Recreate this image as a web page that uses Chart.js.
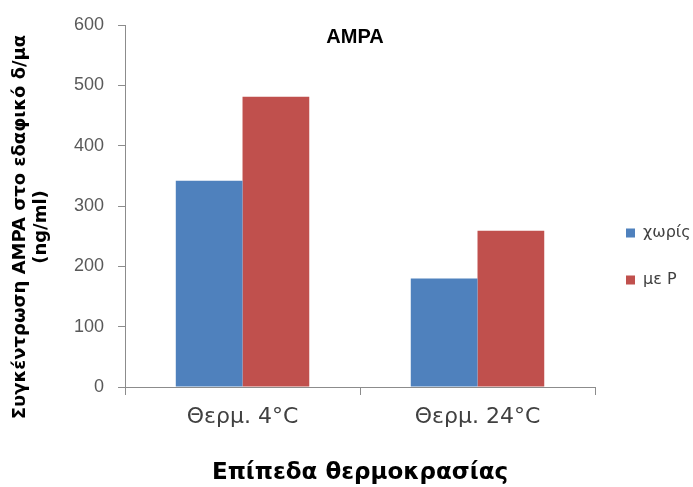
<!DOCTYPE html>
<html>
<head>
<meta charset="utf-8">
<script src="https://cdn.jsdelivr.net/npm/chart.js@4.4.1/dist/chart.umd.min.js"></script>
<style>
  html, body { margin: 0; padding: 0; background: #ffffff; }
  #wrap { width: 693px; height: 487px; }
</style>
</head>
<body>
<div id="wrap"><canvas id="chart" width="693" height="487"></canvas></div>
<script>
// Temperature levels on the x axis
const categories = ['Θερμ. 4°C', 'Θερμ. 24°C'];
// AMPA concentration in soil sample (ng/ml)
const withoutP = [342, 180];
const withP = [481, 259];
const seriesNames = ['χωρίς', 'με P'];
const yTicks = [0, 100, 200, 300, 400, 500, 600];

const chartTitle = 'AMPA';
const yTitleLines = ['Συγκέντρωση AMPA στο εδαφικό δ/μα', '(ng/ml)'];
const xTitle = 'Επίπεδα θερμοκρασίας';

// Chart title, rotated y-axis title and the series key, placed relative to the plot area
const textOverlay = {
  id: 'textOverlay',
  afterDraw(chart) {
    const { ctx, chartArea } = chart;
    ctx.save();
    ctx.fillStyle = '#000000';
    ctx.textAlign = 'center';
    ctx.textBaseline = 'middle';
    ctx.font = 'bold 20px "Liberation Sans", Arial, sans-serif';
    ctx.fillText(chartTitle, (chartArea.left + chartArea.right) / 2 - 5, chartArea.top + 12);

    // series key on the right
    const keyX = chartArea.right + 31;
    const keyY = chartArea.top + 208;
    ctx.textAlign = 'left';
    ctx.font = '16px "DejaVu Sans", Verdana, sans-serif';
    chart.data.datasets.forEach((ds, i) => {
      const y = keyY + i * 47;
      ctx.fillStyle = ds.backgroundColor;
      ctx.fillRect(keyX, y - 4.5, 9, 9);
      ctx.fillStyle = '#404040';
      ctx.fillText(ds.label, keyX + 17, y);
    });

    ctx.fillStyle = '#000000';
    ctx.textAlign = 'center';
    ctx.translate(20, (chartArea.top + chartArea.bottom) / 2 + 21);
    ctx.rotate(-Math.PI / 2);
    ctx.font = 'bold 18px "DejaVu Sans", Verdana, sans-serif';
    yTitleLines.forEach((line, i) => ctx.fillText(line, 0, i * 21));
    ctx.restore();
  }
};

new Chart(document.getElementById('chart'), {
  type: 'bar',
  data: {
    labels: categories,
    datasets: [
      { label: seriesNames[0], data: withoutP, backgroundColor: '#4F81BD' },
      { label: seriesNames[1], data: withP, backgroundColor: '#C0504D' }
    ]
  },
  options: {
    responsive: false,
    animation: false,
    layout: { padding: { left: 60, right: 98, top: 25, bottom: 0 } },
    datasets: { bar: { categoryPercentage: 0.568, barPercentage: 1.0 } },
    plugins: {
      tooltip: { enabled: false },
      title: { display: false },
      legend: { display: false }
    },
    scales: {
      x: {
        grid: { drawOnChartArea: false, drawTicks: true, tickLength: 8, color: '#8c8c8c', offset: true },
        border: { display: true, color: '#8c8c8c', width: 1 },
        ticks: {
          padding: 9,
          color: '#404040',
          font: { family: '"DejaVu Sans", Verdana, sans-serif', size: 22 }
        },
        title: {
          display: true,
          text: xTitle,
          color: '#000000',
          padding: { top: 20, bottom: 0 },
          font: { family: '"DejaVu Sans", Verdana, sans-serif', size: 23, weight: 'bold' }
        }
      },
      y: {
        min: 0,
        max: 600,
        afterBuildTicks(axis) { axis.ticks = yTicks.map(v => ({ value: v })); },
        grid: { drawOnChartArea: false, drawTicks: true, tickLength: 7, color: '#8c8c8c' },
        border: { display: true, color: '#8c8c8c', width: 1 },
        ticks: {
          padding: 14,
          color: '#595959',
          font: { family: '"Liberation Sans", Arial, sans-serif', size: 18 }
        }
      }
    }
  },
  plugins: [textOverlay]
});
</script>
</body>
</html>
